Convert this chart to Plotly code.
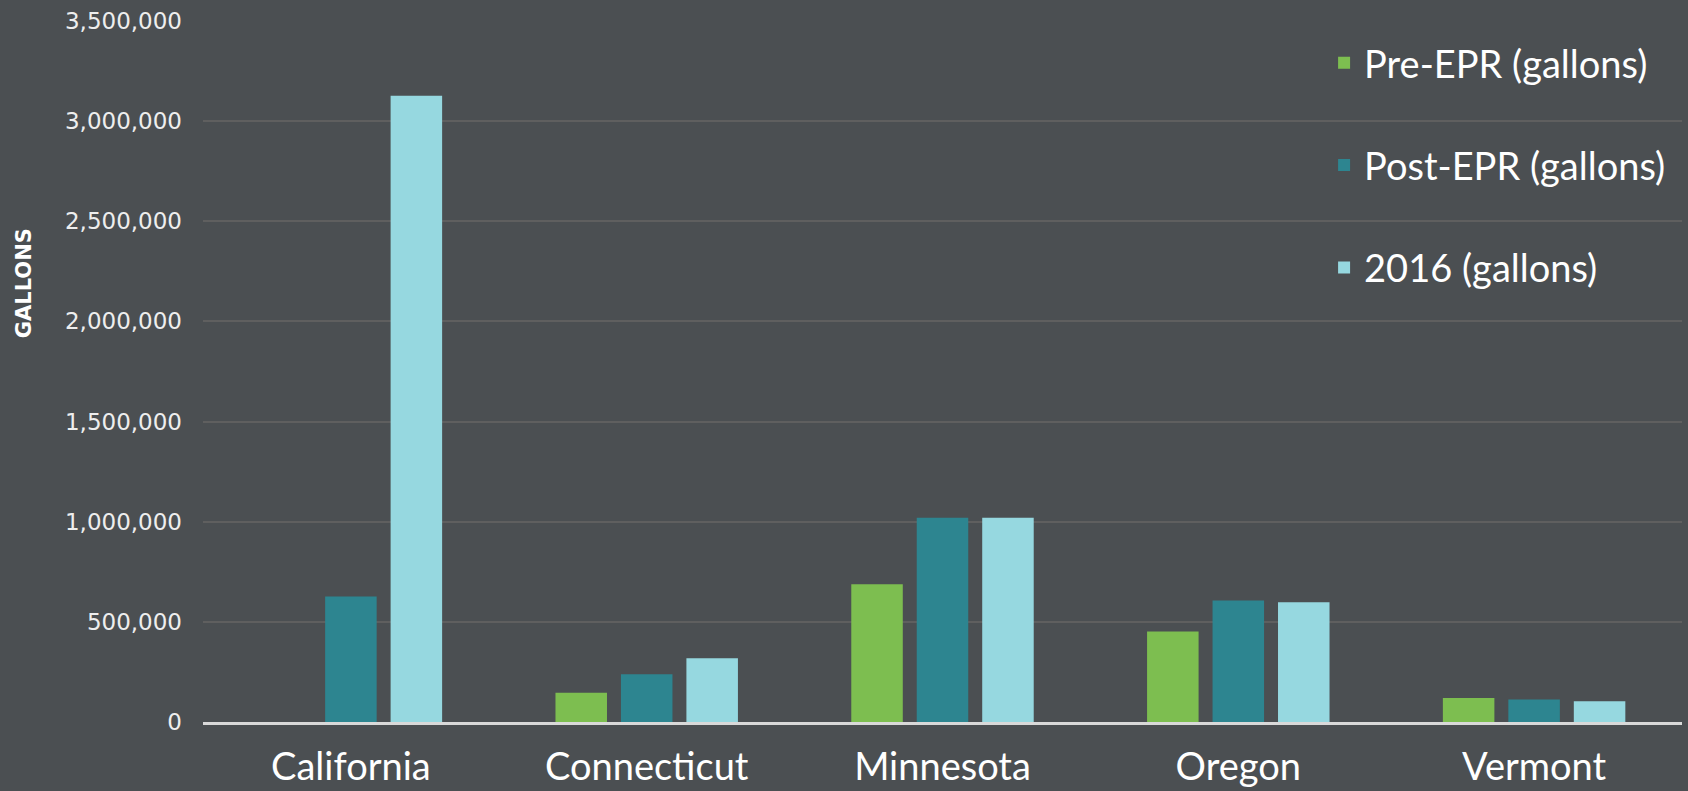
import plotly.graph_objects as go

states = ["California", "Connecticut", "Minnesota", "Oregon", "Vermont"]
pre_epr = [None, 146000, 688000, 452000, 120000]
post_epr = [626000, 238000, 1020000, 607000, 112000]
y2016 = [3127000, 318000, 1020000, 598000, 104000]

series_names = ["Pre-EPR (gallons)", "Post-EPR (gallons)", "2016 (gallons)"]
series_colors = ["#7DBE50", "#2D8590", "#96D8E0"]
y_ticks = [0, 500000, 1000000, 1500000, 2000000, 2500000, 3000000, 3500000]

fig = go.Figure()
for name, vals, col in zip(series_names, [pre_epr, post_epr, y2016], series_colors):
    fig.add_trace(go.Bar(
        x=states, y=vals, name=name, legendgroup=name,
        marker=dict(color=col, line=dict(width=0)),
    ))

bg = "#4B4F52"
fig.update_layout(
    width=1688, height=791,
    paper_bgcolor=bg, plot_bgcolor=bg,
    margin=dict(l=203, r=6, t=21, b=69, autoexpand=False),
    barmode="group", bargap=0.336, bargroupgap=0.213,
    showlegend=True,
    legend=dict(
        x=0.758, xanchor="left", y=0.985, yanchor="top",
        font=dict(family="Lato, Liberation Sans, sans-serif", size=38, color="#FFFFFF"),
        bgcolor="rgba(0,0,0,0)", tracegroupgap=50, traceorder="grouped",
        itemsizing="constant",
    ),
    xaxis=dict(
        showgrid=False, showline=True, linecolor="#D9D9D9", linewidth=3,
        ticks="", tickfont=dict(family="Lato, Liberation Sans, sans-serif", size=38, color="#FFFFFF"),
        ticklabelstandoff=9, automargin=False,
    ),
    yaxis=dict(
        range=[0, 3500000], tickvals=y_ticks, tickformat=",",
        showgrid=True, gridcolor="#5F5F5F", gridwidth=1.5,
        zeroline=False, showline=False, ticks="",
        tickfont=dict(family="DejaVu Sans, sans-serif", size=23, color="#EEEEEE"),
        ticklabelstandoff=20, automargin=False,
    ),
    annotations=[dict(
        text="<b>GALLONS</b>", xref="paper", yref="paper",
        x=-0.121, y=0.626, xanchor="center", yanchor="middle",
        showarrow=False, textangle=-90,
        font=dict(family="DejaVu Sans, sans-serif", size=21, color="#FFFFFF"),
    )],
)

fig.write_html("out.html", config={"displayModeBar": False})
with open("out.html", "r", encoding="utf-8") as f:
    html = f.read()
html = html.replace("<head>", "<head><style>html,body{margin:0;padding:0;overflow:hidden;background:#4B4F52;}</style>", 1)
with open("out.html", "w", encoding="utf-8") as f:
    f.write(html)
